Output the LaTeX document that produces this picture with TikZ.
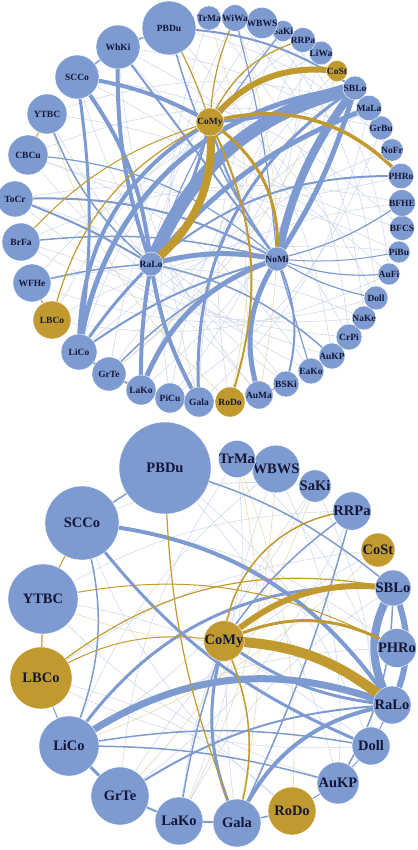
\documentclass[tikz,border=0pt]{standalone}
\usepackage{fontspec}
\setmainfont{Liberation Serif}
\usetikzlibrary{positioning}
\definecolor{nodeblue}{RGB}{125,155,209}
\definecolor{nodegold}{RGB}{193,154,47}
\definecolor{labelnavy}{RGB}{20,22,55}
\definecolor{faintblue}{RGB}{208,218,236}
\definecolor{faintgold}{RGB}{232,218,175}
\pgfdeclarelayer{edges}
\pgfsetlayers{edges,main}
\tikzset{
    vtx/.style={circle, draw=white, line width=0.4pt, inner sep=0pt, text=labelnavy},
    tvtx/.style={vtx, font=\fontsize{9.5}{9.5}\selectfont\bfseries},
    bvtx/.style={vtx, font=\fontsize{14.5}{15}\selectfont\bfseries},
    be/.style={draw=nodeblue, line width=#1},
    ge/.style={draw=nodegold, line width=#1},
    fb/.style={draw=faintblue, line width=0.6pt},
    fg/.style={draw=faintgold, line width=0.6pt}
}

\begin{document}
\begin{tikzpicture}[x=1pt, y=-1pt]
    \useasboundingbox (0,0) rectangle (417,850);

    % Upper network: all species
    \foreach \n/\x/\y/\r/\c in {PBDu/169/28/27/nodeblue, WhKi/118/47/22/nodeblue, SCCo/77/77/22/nodeblue,
        YTBC/47/114/20/nodeblue, CBCu/28/155/20/nodeblue, ToCr/15/199/18/nodeblue, BrFa/21/242/19/nodeblue,
        WFHe/32/283/19/nodeblue, LBCo/52/320/19/nodegold, LiCo/79/352/18/nodeblue, GrTe/109/374/17/nodeblue,
        LaKo/141/390/15/nodeblue, PiCu/170/398/15/nodeblue, Gala/199/402/15/nodeblue, RoDo/230/402/15/nodegold,
        AuMa/259/395/14/nodeblue, BSKi/286/384/13/nodeblue, EaKo/311/371/13/nodeblue, AuKP/332/356/13/nodeblue,
        CrPi/349/337/13/nodeblue, NaKe/364/318/12/nodeblue, Doll/376/298/12/nodeblue, AuFi/389/274/11/nodeblue,
        PiBu/399/252/11/nodeblue, BFCS/402/228/11/nodeblue, BFHE/402/203/11/nodeblue, PHRo/401/176/11/nodeblue,
        NoFr/392/150/11/nodeblue, GrBu/381/128/11/nodeblue, MaLa/369/108/11/nodeblue, SBLo/355/88/12/nodeblue,
        CoSt/337/71/10/nodegold, LiWa/321/53/10/nodeblue, RRPa/303/40/10/nodeblue, SaKi/283/31/10/nodeblue,
        WBWS/262/23/10/nodeblue, WiWa/235/18/10/nodeblue, TrMa/209/18/10/nodeblue,
        CoMy/210/122/14/nodegold, RaLo/151/264/12/nodeblue, NoMi/277/259/12/nodeblue}
        \node[tvtx, fill=\c, minimum size=2*\r pt] (t-\n) at (\x,\y) {\n};

    \begin{pgfonlayer}{edges}
        % faint web
        \foreach \a/\b in {PBDu/NoFr, PBDu/AuKP, WhKi/PHRo, WhKi/Doll, SCCo/BFCS, SCCo/CrPi, YTBC/MaLa, YTBC/AuFi,
            CBCu/GrBu, CBCu/EaKo, ToCr/PiBu, ToCr/BSKi, BrFa/BFHE, BrFa/AuMa, WFHe/NaKe, WFHe/SBLo, LBCo/LiWa,
            LBCo/PiBu, LiCo/RRPa, LiCo/BFHE, GrTe/SaKi, GrTe/NoFr, LaKo/WBWS, LaKo/MaLa, PiCu/WiWa, PiCu/CoSt,
            Gala/TrMa, Gala/LiWa, RoDo/SaKi, AuMa/WhKi, AuMa/RRPa, BSKi/SCCo, EaKo/YTBC, AuKP/CBCu, CrPi/ToCr,
            NaKe/BrFa, Doll/WFHe, AuFi/LBCo, TrMa/CrPi, WiWa/NaKe, WBWS/Doll, SaKi/AuFi, RRPa/PiCu, LiWa/GrTe,
            CoSt/LaKo, GrBu/PiCu, MaLa/Gala, BFCS/WhKi, PHRo/CBCu}
            \draw[fb] (t-\a.center) to[bend left=18] (t-\b.center);
        \foreach \a/\b in {TrMa/RoDo, WiWa/AuMa, CoSt/GrTe, RoDo/YTBC}
            \draw[fg] (t-\a.center) to[bend left=15] (t-\b.center);
        % blue links
        \foreach \a/\b/\w/\g in {RaLo/SBLo/13/27, NoMi/SBLo/8/12, NoMi/SBLo/5/-8, RaLo/MaLa/5/14, RaLo/NoMi/5/12,
            LiCo/CoMy/4/30, LiCo/SBLo/5/38, LaKo/RaLo/4/5, LaKo/NoMi/5/25, AuMa/NoMi/5/25, BSKi/NoMi/2/-20,
            Gala/RaLo/4/10, Gala/SBLo/3/30, SCCo/CoMy/4/10, SCCo/RaLo/4/15, SCCo/LiCo/3/8, WhKi/RaLo/4/-10,
            WhKi/NoMi/2/0, PBDu/SBLo/2/15, PBDu/NoMi/1.5/-10, ToCr/NoMi/2/15, ToCr/RaLo/2/5, BrFa/NoMi/1.5/10,
            WFHe/RaLo/1.5/5, LiCo/NoMi/2/10, GrTe/NoMi/1.5/12, NoMi/Doll/1.2/-10, NoMi/BFHE/1.2/-10,
            NoMi/AuFi/1.2/-12, NoMi/PiBu/1/-8, NoMi/CoMy/2/10, RaLo/CoMy/3/-8, RaLo/AuKP/1.5/15, CoMy/SBLo/3/-10,
            YTBC/RaLo/1.5/-15, CBCu/NoMi/1.2/18, NoMi/EaKo/1.2/0, RaLo/PHRo/2/20, WiWa/NoMi/1.2/5,
            SaKi/RaLo/1.2/-10, LiCo/GrTe/2/0, GrTe/LaKo/2/0, LaKo/PiCu/1.5/0, PiCu/Gala/1.5/0, PBDu/WhKi/1.5/0,
            WhKi/SCCo/1.5/0, AuMa/BSKi/1.2/0, LiCo/RaLo/3/5}
            \draw[be=\w] (t-\a.center) to[bend left=\g] (t-\b.center);
        % gold links
        \foreach \a/\b/\w/\g in {CoMy/RaLo/8/28, CoMy/CoSt/6/29, CoMy/PHRo/3.5/31, CoMy/NoMi/3/30,
            CoMy/RoDo/2/22, CoMy/LBCo/1.2/-25, PBDu/CoMy/1.2/5, RRPa/CoMy/1.2/-25, WiWa/CoMy/1.2/-10,
            CoMy/BrFa/1/-15, YTBC/CBCu/1/0, LBCo/WFHe/1/0}
            \draw[ge=\w] (t-\a.center) to[bend left=\g] (t-\b.center);
    \end{pgfonlayer}

    % Lower network: core species
    \foreach \n/\x/\y/\r/\c in {PBDu/165/468/46/nodeblue, SCCo/82/523/37/nodeblue, YTBC/43/599/35/nodeblue,
        LBCo/41/678/31/nodegold, LiCo/69/746/30/nodeblue, GrTe/120/796/29/nodeblue, LaKo/179/821/24/nodeblue,
        Gala/237/823/24/nodeblue, RoDo/292/811/24/nodegold, AuKP/338/783/21/nodeblue, Doll/371/746/19/nodeblue,
        RaLo/392/705/19/nodeblue, PHRo/397/648/17/nodeblue, SBLo/393/588/18/nodeblue, CoSt/378/550/17/nodegold,
        RRPa/352/511/16/nodeblue, SaKi/315/486/16/nodeblue, WBWS/276/469/16/nodeblue, TrMa/237/459/16/nodeblue,
        CoMy/224/641/19/nodegold}
        \node[bvtx, fill=\c, minimum size=2*\r pt] (b-\n) at (\x,\y) {\n};

    \begin{pgfonlayer}{edges}
        % faint web
        \foreach \a/\b in {PBDu/AuKP, PBDu/Doll, SCCo/SaKi, SCCo/PHRo, YTBC/RRPa, YTBC/Doll, LBCo/CoSt,
            LBCo/RoDo, LiCo/WBWS, LiCo/PHRo, GrTe/TrMa, GrTe/CoSt, LaKo/SaKi, LaKo/SBLo, Gala/WBWS, RoDo/SCCo,
            AuKP/YTBC, Doll/LBCo, TrMa/LaKo, SaKi/LiCo, RRPa/GrTe, WBWS/AuKP, SaKi/Doll, TrMa/RaLo}
            \draw[fb] (b-\a.center) to[bend left=15] (b-\b.center);
        \foreach \a/\b in {TrMa/Gala, WBWS/LaKo, CoMy/YTBC, TrMa/RoDo, SaKi/GrTe, CoSt/LiCo}
            \draw[fg] (b-\a.center) to[bend left=12] (b-\b.center);
        % blue links
        \foreach \a/\b/\w/\g in {SBLo/RaLo/8/-32, SBLo/RaLo/6/24, LiCo/RaLo/7/28, SCCo/RaLo/4/25,
            SCCo/Doll/3/-15, SCCo/LiCo/1.5/20, CoMy/Gala/3/-20, Gala/RaLo/4/28, CoMy/RaLo/3/-15,
            LiCo/SBLo/3/30, PBDu/SBLo/1.5/12, RRPa/CoMy/1.5/-10, RRPa/Gala/1.5/5, CoMy/LaKo/1.5/-5,
            AuKP/SBLo/1.5/-15, GrTe/RaLo/2/15, LiCo/Doll/1.5/10, LiCo/AuKP/1.5/8, LiCo/GrTe/3/0,
            GrTe/LaKo/2/0, LaKo/Gala/2/0, Gala/RoDo/1.5/0, RoDo/AuKP/1/0, AuKP/Doll/1/0, Doll/RaLo/1/0,
            SCCo/PBDu/1.5/0, LBCo/LiCo/1/0}
            \draw[be=\w] (b-\a.center) to[bend left=\g] (b-\b.center);
        % gold links
        \foreach \a/\b/\w/\g in {CoMy/RaLo/10/19, CoMy/SBLo/6/24, CoMy/PHRo/3/28, RRPa/CoMy/1.5/-40,
            LBCo/CoMy/1/20, PBDu/Gala/1.2/-10, CoMy/Gala/1.5/20, LBCo/SBLo/1.2/25, YTBC/PHRo/1/20,
            SCCo/YTBC/1/0, YTBC/LBCo/1.2/0}
            \draw[ge=\w] (b-\a.center) to[bend left=\g] (b-\b.center);
    \end{pgfonlayer}
\end{tikzpicture}
\end{document}
